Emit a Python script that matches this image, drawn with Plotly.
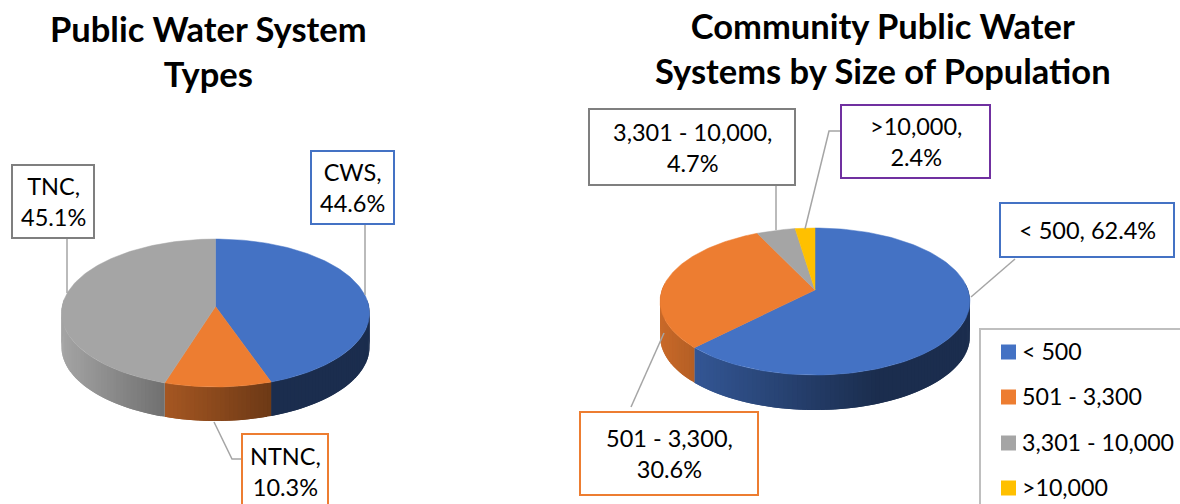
import numpy as np
import plotly.graph_objects as go

# --- data ---
types_names = ["CWS", "NTNC", "TNC"]
types_values = [44.6, 10.3, 45.1]
size_names = ["&lt; 500", "501 - 3,300", "3,301 - 10,000", "&gt;10,000"]
size_values = [62.4, 30.6, 4.7, 2.4]

blue, orange, grey, gold = "#4472c4", "#ed7d31", "#a5a5a5", "#ffc000"
types_colors = [blue, orange, grey]
size_colors = [blue, orange, grey, gold]
# brightness of each slice's rim, left end and right end
types_rim = [(0.40, 0.40), (0.70, 0.46), (1.0, 0.68)]
size_rim = [(0.76, 0.40), (0.85, 0.76), (0.7, 0.7), (0.7, 0.7)]
# share of the rim the brightness ramp takes before it stays flat
size_rim_reach = [0.66, 1, 1, 1]

fig = go.Figure()


def rgb(hex_color, k):
    c = [int(hex_color[i:i + 2], 16) for i in (1, 3, 5)]
    return "rgb(%d,%d,%d)" % tuple(int(v * k) for v in c)


def project(theta, p):
    # 3D-ish pie: perspective squeeze of a flat circle, front is bigger
    w = 1 + p["k"] * np.cos(theta)
    return p["cx"] + p["a"] * np.sin(theta) / w, p["cy"] - p["b"] * np.cos(theta) / w


def add_pie(values, names, colors, rim, p, reach=None):
    edges = np.cumsum([0] + list(values)) / sum(values) * 2 * np.pi
    reach = reach or [1] * len(values)
    # rim first, the top faces go over it
    for i in range(len(values)):
        t0, t1 = edges[i], edges[i + 1]
        lo, hi = max(t0, np.pi / 2 - 0.1), min(t1, 3 * np.pi / 2 + 0.1)
        if hi <= lo:
            continue
        th = np.linspace(lo, hi, max(3, int((hi - lo) / np.radians(1.5)) + 2))
        xs, ys = project(th, p)
        for j in range(len(th) - 1):
            frac = (0.5 * (xs[j] + xs[j + 1]) - xs.min()) / (xs.max() - xs.min())
            frac = min(1, frac / reach[i])
            col = rgb(colors[i], rim[i][0] + (rim[i][1] - rim[i][0]) * frac)
            # run each strip on under the next one so no seams show
            e = min(j + 2, len(th) - 1)
            fig.add_trace(go.Scatter(
                x=[xs[j], xs[e], xs[e], xs[j], xs[j]],
                y=[ys[j], ys[e], ys[e] + p["depth"], ys[j] + p["depth"], ys[j]],
                mode="lines", fill="toself", fillcolor=col,
                line=dict(width=0),
                hoverinfo="skip", showlegend=False,
            ))
    for i in range(len(values)):
        th = np.linspace(edges[i], edges[i + 1], 120)
        xs, ys = project(th, p)
        fig.add_trace(go.Scatter(
            x=[p["cx"]] + list(xs) + [p["cx"]], y=[p["cy"]] + list(ys) + [p["cy"]],
            mode="lines", fill="toself", fillcolor=colors[i],
            line=dict(color=colors[i], width=0.5),
            name=names[i], text="%s, %s%%" % (names[i], values[i]), hoverinfo="text",
            showlegend=False,
        ))


add_pie(types_values, types_names, types_colors, types_rim,
        dict(cx=215.5, cy=306.5, a=153.4, b=73.4, k=0.088, depth=34))
add_pie(size_values, size_names, size_colors, size_rim,
        dict(cx=815, cy=290, a=153, b=71.7, k=0.1565, depth=35), size_rim_reach)

# --- callouts ---
LABEL_FONT = dict(family="Lato, Carlito, sans-serif", size=23.5, color="#000000")


def callout(x0, y0, x1, y1, color, text, leader):
    fig.add_shape(type="path", path="M" + " L".join("%s,%s" % pt for pt in leader),
                  line=dict(color="#a5a5a5", width=1.5), layer="above")
    fig.add_shape(type="rect", x0=x0, y0=y0, x1=x1, y1=y1, fillcolor="white",
                  line=dict(color=color, width=2), layer="above")
    fig.add_annotation(x=(x0 + x1) / 2, y=(y0 + y1) / 2, text=text, showarrow=False,
                       font=LABEL_FONT, align="center")


def lab(names, values, i, sep="<br>"):
    return "%s,%s%s%%" % (names[i], sep, values[i])


callout(311, 151, 394, 224, blue, lab(types_names, types_values, 0), [(365, 224), (365, 295)])
callout(242, 434, 328, 508, orange, lab(types_names, types_values, 1),
        [(214, 422), (232, 459), (242, 459)])
callout(12, 165, 94, 238, "#7f7f7f", lab(types_names, types_values, 2), [(67, 238), (67, 293)])
callout(1000, 203, 1174, 257, blue, lab(size_names, size_values, 0, " "), [(1015, 259), (971, 297)])
callout(580, 412, 758, 495, orange, lab(size_names, size_values, 1), [(631, 407), (664, 333)])
callout(589, 109, 795, 185, "#7f7f7f", lab(size_names, size_values, 2), [(776, 185), (776, 230)])
callout(841, 105, 990, 178, "#7030a0", lab(size_names, size_values, 3),
        [(841, 131), (829, 131), (805, 229)])

# --- legend box ---
legend_y = [352, 397, 443, 488]
fig.add_shape(type="rect", x0=980, y0=329, x1=1190, y1=515, fillcolor="white",
              line=dict(color="#bfbfbf", width=2), layer="below")
fig.add_trace(go.Scatter(
    x=[1008.5] * 4, y=legend_y, mode="markers",
    marker=dict(symbol="square", size=15, color=size_colors),
    cliponaxis=False, hoverinfo="skip", showlegend=False,
))
fig.add_trace(go.Scatter(
    x=[1022] * 4, y=[v + 2 for v in legend_y], mode="text",
    text=size_names, textposition="middle right",
    textfont=dict(family="Lato, Carlito, sans-serif", size=23.2, color="#000000"),
    cliponaxis=False, hoverinfo="skip", showlegend=False,
))

# --- titles ---
TITLE_FONT = dict(family="Lato, Carlito, sans-serif", size=34.5, color="#000000")
fig.add_annotation(x=208, y=51, text="<b>Public Water System<br>Types</b>", showarrow=False,
                   font=TITLE_FONT, align="center")
fig.add_annotation(x=883, y=47.5, text="<b>Community Public Water<br>Systems by Size of Population</b>",
                   showarrow=False, font=TITLE_FONT, align="center")

fig.update_xaxes(range=[0, 1180], visible=False)
fig.update_yaxes(range=[504, 0], visible=False)
fig.update_layout(width=1180, height=504, margin=dict(l=0, r=0, t=0, b=0),
                  plot_bgcolor="white", paper_bgcolor="white", showlegend=False)

fig.write_html("out.html", config=dict(displayModeBar=False),
               post_script="document.body.style.margin='0';")
